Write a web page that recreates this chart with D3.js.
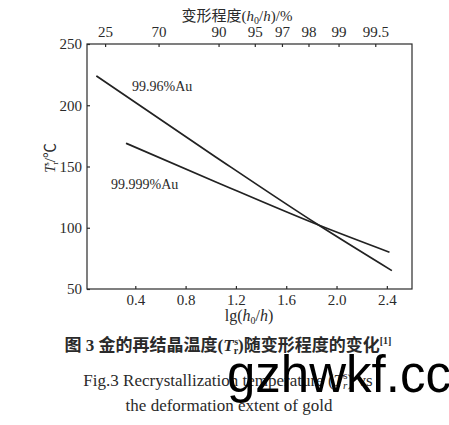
<!DOCTYPE html>
<html lang="zh">
<head>
<meta charset="UTF-8">
<title>金的再结晶温度</title>
<script src="https://d3js.org/d3.v7.min.js"></script>
<style>
  body { margin: 0; background: #fff; }
  svg text { font-family: "Liberation Serif", "Noto Sans CJK SC", serif; fill: #2a2a2a; }
  .axis path, .axis line { stroke: #2a2a2a; }
  .axis text { font-size: 15px; }
</style>
</head>
<body>
<div id="chart"></div>
<script>
// bottom axis: lg(h0/h)
const xTicks = [0.4, 0.8, 1.2, 1.6, 2.0, 2.4];
// top axis: deformation %, positions as drawn (in lg(h0/h) units)
const topTickPos = [0.16, 0.585, 1.062, 1.35, 1.566, 1.777, 2.016, 2.308];
const topTickLabels = ["25", "70", "90", "95", "97", "98", "99", "99.5"];
const yTicks = [50, 100, 150, 200, 250];

// series (lg(h0/h), T in °C)
const au9996_x = [0.09, 1.036, 1.857, 2.44];
const au9996_y = [224, 158, 102.2, 65];
const au99999_x = [0.326, 1.036, 1.857, 2.421];
const au99999_y = [169, 137.6, 102.2, 80];

const W = 449, H = 425;
const svg = d3.select("#chart").append("svg")
    .attr("width", W).attr("height", H);

const x = d3.scaleLinear().domain([0.016, 2.6]).range([87, 412]);
const y = d3.scaleLinear().domain([50, 250]).range([289, 44]);

// frame
svg.append("rect")
    .attr("x", x.range()[0]).attr("y", y(250))
    .attr("width", x.range()[1] - x.range()[0])
    .attr("height", y(50) - y(250))
    .attr("fill", "none").attr("stroke", "#2a2a2a").attr("stroke-width", 1.2);

// bottom axis
svg.append("g").attr("class", "axis")
    .attr("transform", `translate(0,${y(50)})`)
    .call(d3.axisBottom(x).tickValues(xTicks).tickFormat(d3.format(".1f"))
        .tickSizeInner(-3).tickSizeOuter(0).tickPadding(5))
    .call(g => g.select(".domain").remove());

// top axis
svg.append("g").attr("class", "axis")
    .attr("transform", `translate(0,${y(250)})`)
    .call(d3.axisTop(x).tickValues(topTickPos).tickFormat((d, i) => topTickLabels[i])
        .tickSizeInner(-3).tickSizeOuter(0).tickPadding(7))
    .call(g => g.select(".domain").remove());

// left axis
svg.append("g").attr("class", "axis")
    .attr("transform", `translate(${x.range()[0]},0)`)
    .call(d3.axisLeft(y).tickValues(yTicks)
        .tickSizeInner(-3).tickSizeOuter(0).tickPadding(5))
    .call(g => g.select(".domain").remove());

svg.selectAll(".axis line").attr("stroke-width", 1.2);

// axis titles
const xt = svg.append("text").attr("x", 249).attr("y", 321)
    .attr("text-anchor", "middle").style("font-size", "16px");
xt.append("tspan").text("lg(");
xt.append("tspan").style("font-style", "italic").text("h");
xt.append("tspan").attr("font-size", "10px").attr("dy", 3).text("0");
xt.append("tspan").attr("dy", -3).text("/");
xt.append("tspan").style("font-style", "italic").text("h");
xt.append("tspan").text(")");

const tt = svg.append("text").attr("x", 237).attr("y", 21)
    .attr("text-anchor", "middle").style("font-size", "15px");
tt.append("tspan").text("变形程度(");
tt.append("tspan").style("font-style", "italic").text("h");
tt.append("tspan").attr("font-size", "10px").attr("dy", 3).text("0");
tt.append("tspan").attr("dy", -3).text("/");
tt.append("tspan").style("font-style", "italic").text("h");
tt.append("tspan").text(")/%");

const yt = svg.append("text")
    .attr("transform", "translate(55,158) rotate(-90)")
    .attr("text-anchor", "middle").style("font-size", "15px");
yt.append("tspan").style("font-style", "italic").text("T");
yt.append("tspan").attr("font-size", "9px").attr("dy", 3).text("r");
yt.append("tspan").attr("font-size", "9px").attr("dx", -4).attr("dy", -9).text("s");
yt.append("tspan").attr("dy", 6).text("/℃");

// lines
const line = d3.line().curve(d3.curveMonotoneX).x(d => x(d[0])).y(d => y(d[1]));
[[au9996_x, au9996_y], [au99999_x, au99999_y]].forEach(([xs, ys]) => {
  svg.append("path")
      .datum(xs.map((v, i) => [v, ys[i]]))
      .attr("d", line)
      .attr("fill", "none").attr("stroke", "#222").attr("stroke-width", 1.7);
});

// series labels
svg.append("text").attr("x", 132).attr("y", 91).style("font-size", "14px").text("99.96%Au");
svg.append("text").attr("x", 111).attr("y", 189).style("font-size", "14px").text("99.999%Au");

// caption
const c1 = svg.append("text").attr("x", 228).attr("y", 351)
    .attr("text-anchor", "middle").style("font-size", "17px").style("font-weight", "bold");
c1.append("tspan").text("图 3  金的再结晶温度(");
c1.append("tspan").style("font-style", "italic").text("T");
c1.append("tspan").attr("font-size", "10px").attr("dy", 3).text("r");
c1.append("tspan").attr("font-size", "10px").attr("dx", -4).attr("dy", -9).text("s");
c1.append("tspan").attr("dy", 6).text(")随变形程度的变化");
c1.append("tspan").attr("font-size", "10px").attr("dy", -7).text("[1]");

const c2 = svg.append("text").attr("x", 228).attr("y", 386)
    .attr("text-anchor", "middle").style("font-size", "17px");
c2.append("tspan").text("Fig.3 Recrystallization temperature (");
c2.append("tspan").style("font-style", "italic").text("T");
c2.append("tspan").attr("font-size", "11px").attr("dy", 3).style("font-style", "italic").text("r");
c2.append("tspan").attr("font-size", "11px").attr("dx", -4).attr("dy", -10).text("s");
c2.append("tspan").attr("dy", 7).text(") vs");

svg.append("text").attr("x", 229).attr("y", 411)
    .attr("text-anchor", "middle").style("font-size", "17px")
    .text("the deformation extent of gold");

// watermark
svg.append("text").attr("x", 227).attr("y", 392)
    .style("font-family", "'Liberation Sans', Arial, sans-serif")
    .style("font-size", "51px").style("fill", "#000")
    .text("gzhwkf.cc");
</script>
</body>
</html>
